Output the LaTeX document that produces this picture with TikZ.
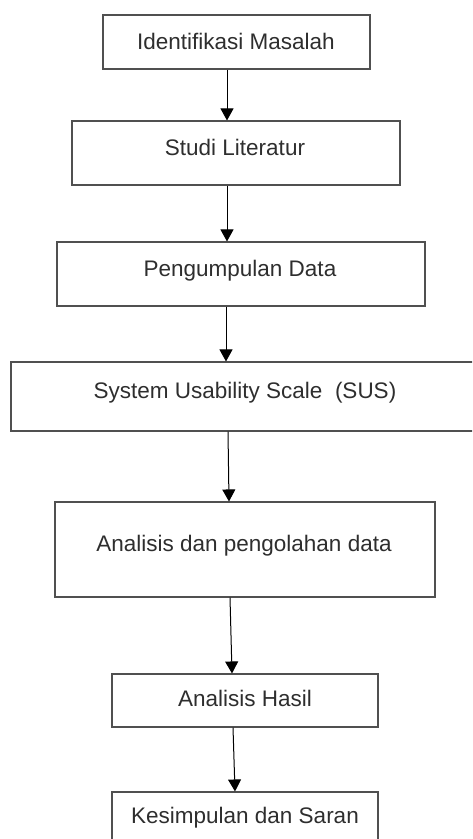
\documentclass[tikz,border=0pt]{standalone}
\usepackage{fontspec}
\setmainfont{Liberation Sans}
\usetikzlibrary{arrows.meta}
\definecolor{boxline}{HTML}{505050}
\definecolor{txt}{HTML}{2E2E2E}
\tikzset{
  box/.style={draw=boxline, line width=1.1pt, rectangle, inner sep=0pt},
  lbl/.style={anchor=base, inner sep=0pt, text=txt, font=\fontsize{22.5}{27}\selectfont},
  arr/.style={draw=black, line width=1pt, -{Triangle[width=13pt,length=12pt]}}
}
\begin{document}
\begin{tikzpicture}[x=1pt,y=-1pt]
\useasboundingbox (0,0) rectangle (472,839);
\clip (0,0) rectangle (472,839);
\node[box, minimum width=267pt, minimum height=54pt] (b1) at (236.5,42) {};
\node[box, minimum width=328pt, minimum height=64pt] (b2) at (236,153) {};
\node[box, minimum width=368pt, minimum height=64pt] (b3) at (241,274) {};
\node[box, minimum width=474pt, minimum height=69pt] (b4) at (248,396.5) {};
\node[box, minimum width=380pt, minimum height=95pt] (b5) at (245,549.5) {};
\node[box, minimum width=266pt, minimum height=53pt] (b6) at (245,700.5) {};
\node[box, minimum width=266pt, minimum height=68pt] (b7) at (245,826) {};
\node[lbl] (t1) at (236,49.3) {Identifikasi Masalah};
\node[lbl] (t2) at (235,155) {Studi Literatur};
\node[lbl] (t3) at (240,276) {Pengumpulan Data};
\node[lbl] (t4) at (245,398) {System Usability Scale\ \ (SUS)};
\node[lbl] (t5) at (244,551) {Analisis dan pengolahan data};
\node[lbl] (t6) at (245,706) {Analisis Hasil};
\node[lbl] (t7) at (245,823) {Kesimpulan dan Saran};
\draw[arr] ([xshift=-9.5pt]b1.south) -- ([xshift=-9pt]b2.north);
\draw[arr] ([xshift=-9pt]b2.south) -- ([xshift=-14pt]b3.north);
\draw[arr] ([xshift=-15pt]b3.south) -- ([xshift=-22pt]b4.north);
\draw[arr] ([xshift=-20pt]b4.south) -- ([xshift=-16pt]b5.north);
\draw[arr] ([xshift=-15pt]b5.south) -- ([xshift=-13pt]b6.north);
\draw[arr] ([xshift=-12pt]b6.south) -- ([xshift=-10pt]b7.north);
\end{tikzpicture}
\end{document}
